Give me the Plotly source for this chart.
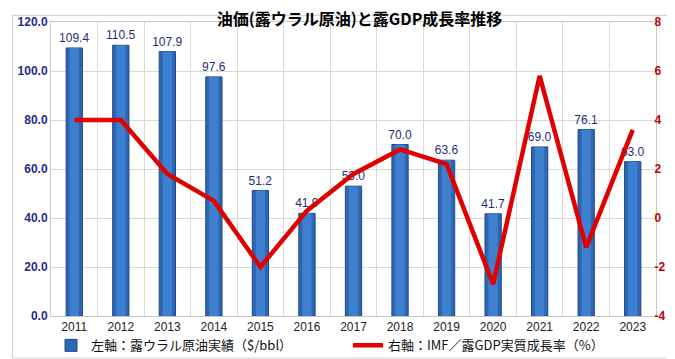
import plotly.graph_objects as go

years = ["2011", "2012", "2013", "2014", "2015", "2016", "2017", "2018", "2019", "2020", "2021", "2022", "2023"]
oil_price = [109.4, 110.5, 107.9, 97.6, 51.2, 41.9, 53.0, 70.0, 63.6, 41.7, 69.0, 76.1, 63.0]
gdp_growth = [4.0, 4.0, 1.8, 0.7, -2.0, 0.3, 1.8, 2.8, 2.2, -2.7, 5.8, -1.2, 3.6]
left_ticks = [0, 20, 40, 60, 80, 100, 120]
right_ticks = [-4, -2, 0, 2, 4, 6, 8]

num_font = "Liberation Sans, Arial, sans-serif"
jp_font = "Noto Sans CJK JP, sans-serif"

fig = go.Figure()
fig.add_trace(go.Bar(
    x=years, y=oil_price, name="左軸：露ウラル原油実績（$/bbl）",
    width=0.35,
    marker=dict(color="#2d66b3", line=dict(color="#1f4a85", width=1)),
    text=[f"{v:.1f}" for v in oil_price], textposition="outside",
    textfont=dict(family=num_font, size=12, color="#1f2d78"),
    constraintext="none", cliponaxis=False,
))
# lighter centre of each bar for a cylinder look
fig.add_trace(go.Bar(
    x=years, y=oil_price, width=0.2, showlegend=False, hoverinfo="skip",
    marker=dict(color="#3f7fcf", line=dict(width=0)),
))
fig.add_trace(go.Scatter(
    x=years, y=gdp_growth, name="右軸：IMF／露GDP実質成長率（%）",
    yaxis="y2", mode="lines",
    line=dict(color="#e00000", width=4.5),
))

fig.update_layout(
    width=675, height=359,
    margin=dict(l=43, r=27, t=7, b=44),
    paper_bgcolor="white", plot_bgcolor="white",
    barmode="overlay",
    title=dict(text="<b>油価(露ウラル原油)と露GDP成長率推移</b>", x=0.51, xanchor="center",
               xref="paper", yref="container", y=0.968, yanchor="middle",
               font=dict(family=jp_font, size=16, color="black")),
    showlegend=True,
    legend=dict(orientation="h", x=0.0, xanchor="left", y=-0.1, yanchor="middle",
                font=dict(family=jp_font, size=13, color="#111"),
                bgcolor="rgba(0,0,0,0)", itemwidth=30, tracegroupgap=0,
                entrywidth=252),
    xaxis=dict(type="category", tickson="boundaries", showgrid=True, gridcolor="#d9d9d9",
               ticks="", tickfont=dict(family=num_font, size=12, color="#222"),
               showline=True, linecolor="#c8c8c8", mirror=True),
    yaxis=dict(range=[0, 120], tickvals=left_ticks, ticktext=[f"{v:.1f}" for v in left_ticks],
               showgrid=True, gridcolor="#d9d9d9", zeroline=False,
               tickfont=dict(family=num_font, size=12, color="#1f2d8a", weight="bold"),
               showline=True, linecolor="#c8c8c8"),
    yaxis2=dict(range=[-4, 8], tickvals=right_ticks, ticktext=[str(v) for v in right_ticks],
                overlaying="y", side="right",
                showgrid=False, zeroline=False, ticklabelstandoff=-5,
                tickfont=dict(family=num_font, size=12, color="#c00000", weight="bold"),
                showline=True, linecolor="#c8c8c8"),
    shapes=[dict(type="rect", xref="paper", yref="paper", x0=-0.0637, x1=1.04, y0=-0.143, y1=1.0227,
                 line=dict(color="#d0d0d0", width=1), layer="below")],
)

fig.write_html("out.html")
